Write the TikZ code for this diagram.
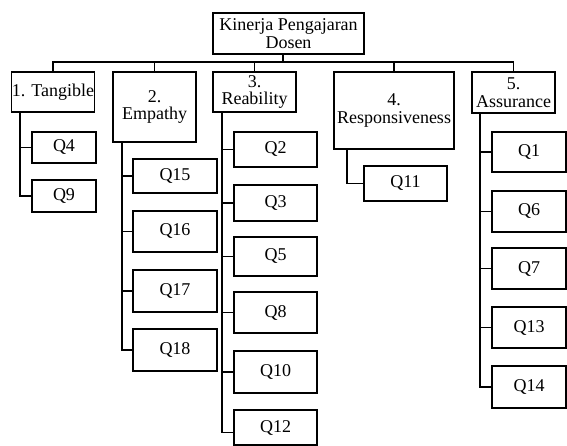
\documentclass[tikz,border=0pt]{standalone}
\usepackage{fontspec}
\setmainfont{Liberation Serif}
\tikzset{
  bx/.style={draw, line width=1.1pt, inner sep=0pt, align=center,
    font=\fontsize{18}{17.5}\selectfont},
  ln/.style={line width=1.1pt}
}
% box by corners: x1,y1,x2,y2 (y downward)
\newcommand{\mybox}[6]{%
  \node[bx, minimum width={(#4-#2)*1pt}, minimum height={(#5-#3)*1pt}]
    (#1) at ({(#2+#4)/2},{-(#3+#5)/2}) {#6};}
\begin{document}
\begin{tikzpicture}[x=1pt,y=1pt]
\useasboundingbox (0,0) rectangle (567,-446);
% root and categories
\mybox{root}{213}{13}{364}{54}{Kinerja Pengajaran\\Dosen}
\mybox{b1}{12}{72}{94}{112}{1. Tangible}
\mybox{b2}{113}{72}{196}{142}{2.\\Empathy}
\mybox{b3}{213}{72}{296}{112}{3.\\Reability}
\mybox{b4}{334}{72}{454}{149}{4.\\Responsiveness}
\mybox{b5}{472}{72}{555}{113}{5.\\Assurance}
% children of 1
\mybox{q4}{32}{132}{96}{163}{Q4}
\mybox{q9}{32}{180}{96}{212}{Q9}
% children of 2
\mybox{q15}{133}{159}{217}{193}{Q15}
\mybox{q16}{133}{211}{217}{252}{Q16}
\mybox{q17}{133}{270}{217}{312}{Q17}
\mybox{q18}{133}{329}{217}{371}{Q18}
% children of 3
\mybox{q2}{234}{132}{317}{167}{Q2}
\mybox{q3}{234}{185}{317}{221}{Q3}
\mybox{q5}{234}{237}{317}{276}{Q5}
\mybox{q8}{234}{292}{317}{333}{Q8}
\mybox{q10}{234}{351}{317}{393}{Q10}
\mybox{q12}{234}{410}{317}{445}{Q12}
% child of 4
\mybox{q11}{364}{166}{447}{201}{Q11}
% children of 5
\mybox{q1}{492}{132}{566}{172}{Q1}
\mybox{q6}{492}{191}{566}{232}{Q6}
\mybox{q7}{492}{248}{566}{289}{Q7}
\mybox{q13}{492}{307}{566}{348}{Q13}
\mybox{q14}{492}{366}{566}{408}{Q14}
% bus
\coordinate (bus) at (283,-62);
\draw[ln] (root.south -| bus) -- (bus);
\draw[ln] (b1.north) -- (b1.north |- bus) -- (b5.north |- bus) -- (b5.north);
\foreach \b in {b2,b3,b4} \draw[ln] (\b.north) -- (\b.north |- bus);
% spines
\coordinate (s1) at (20,-112);
\coordinate (s2) at (122,-142);
\coordinate (s3) at (222,-112);
\coordinate (s4) at (347,-149);
\coordinate (s5) at (480,-113);
\foreach \q in {q4,q9} \draw[ln] (s1) |- (\q.west);
\foreach \q in {q15,q16,q17,q18} \draw[ln] (s2) |- (\q.west);
\foreach \q in {q2,q3,q5,q8,q10} \draw[ln] (s3) |- (\q.west);
\draw[ln] (s3) |- ([yshift=-5pt]q12.west);
\draw[ln] (s4) |- (q11.west);
\foreach \q in {q1,q6,q7,q13,q14} \draw[ln] (s5) |- (\q.west);
\end{tikzpicture}
\end{document}
